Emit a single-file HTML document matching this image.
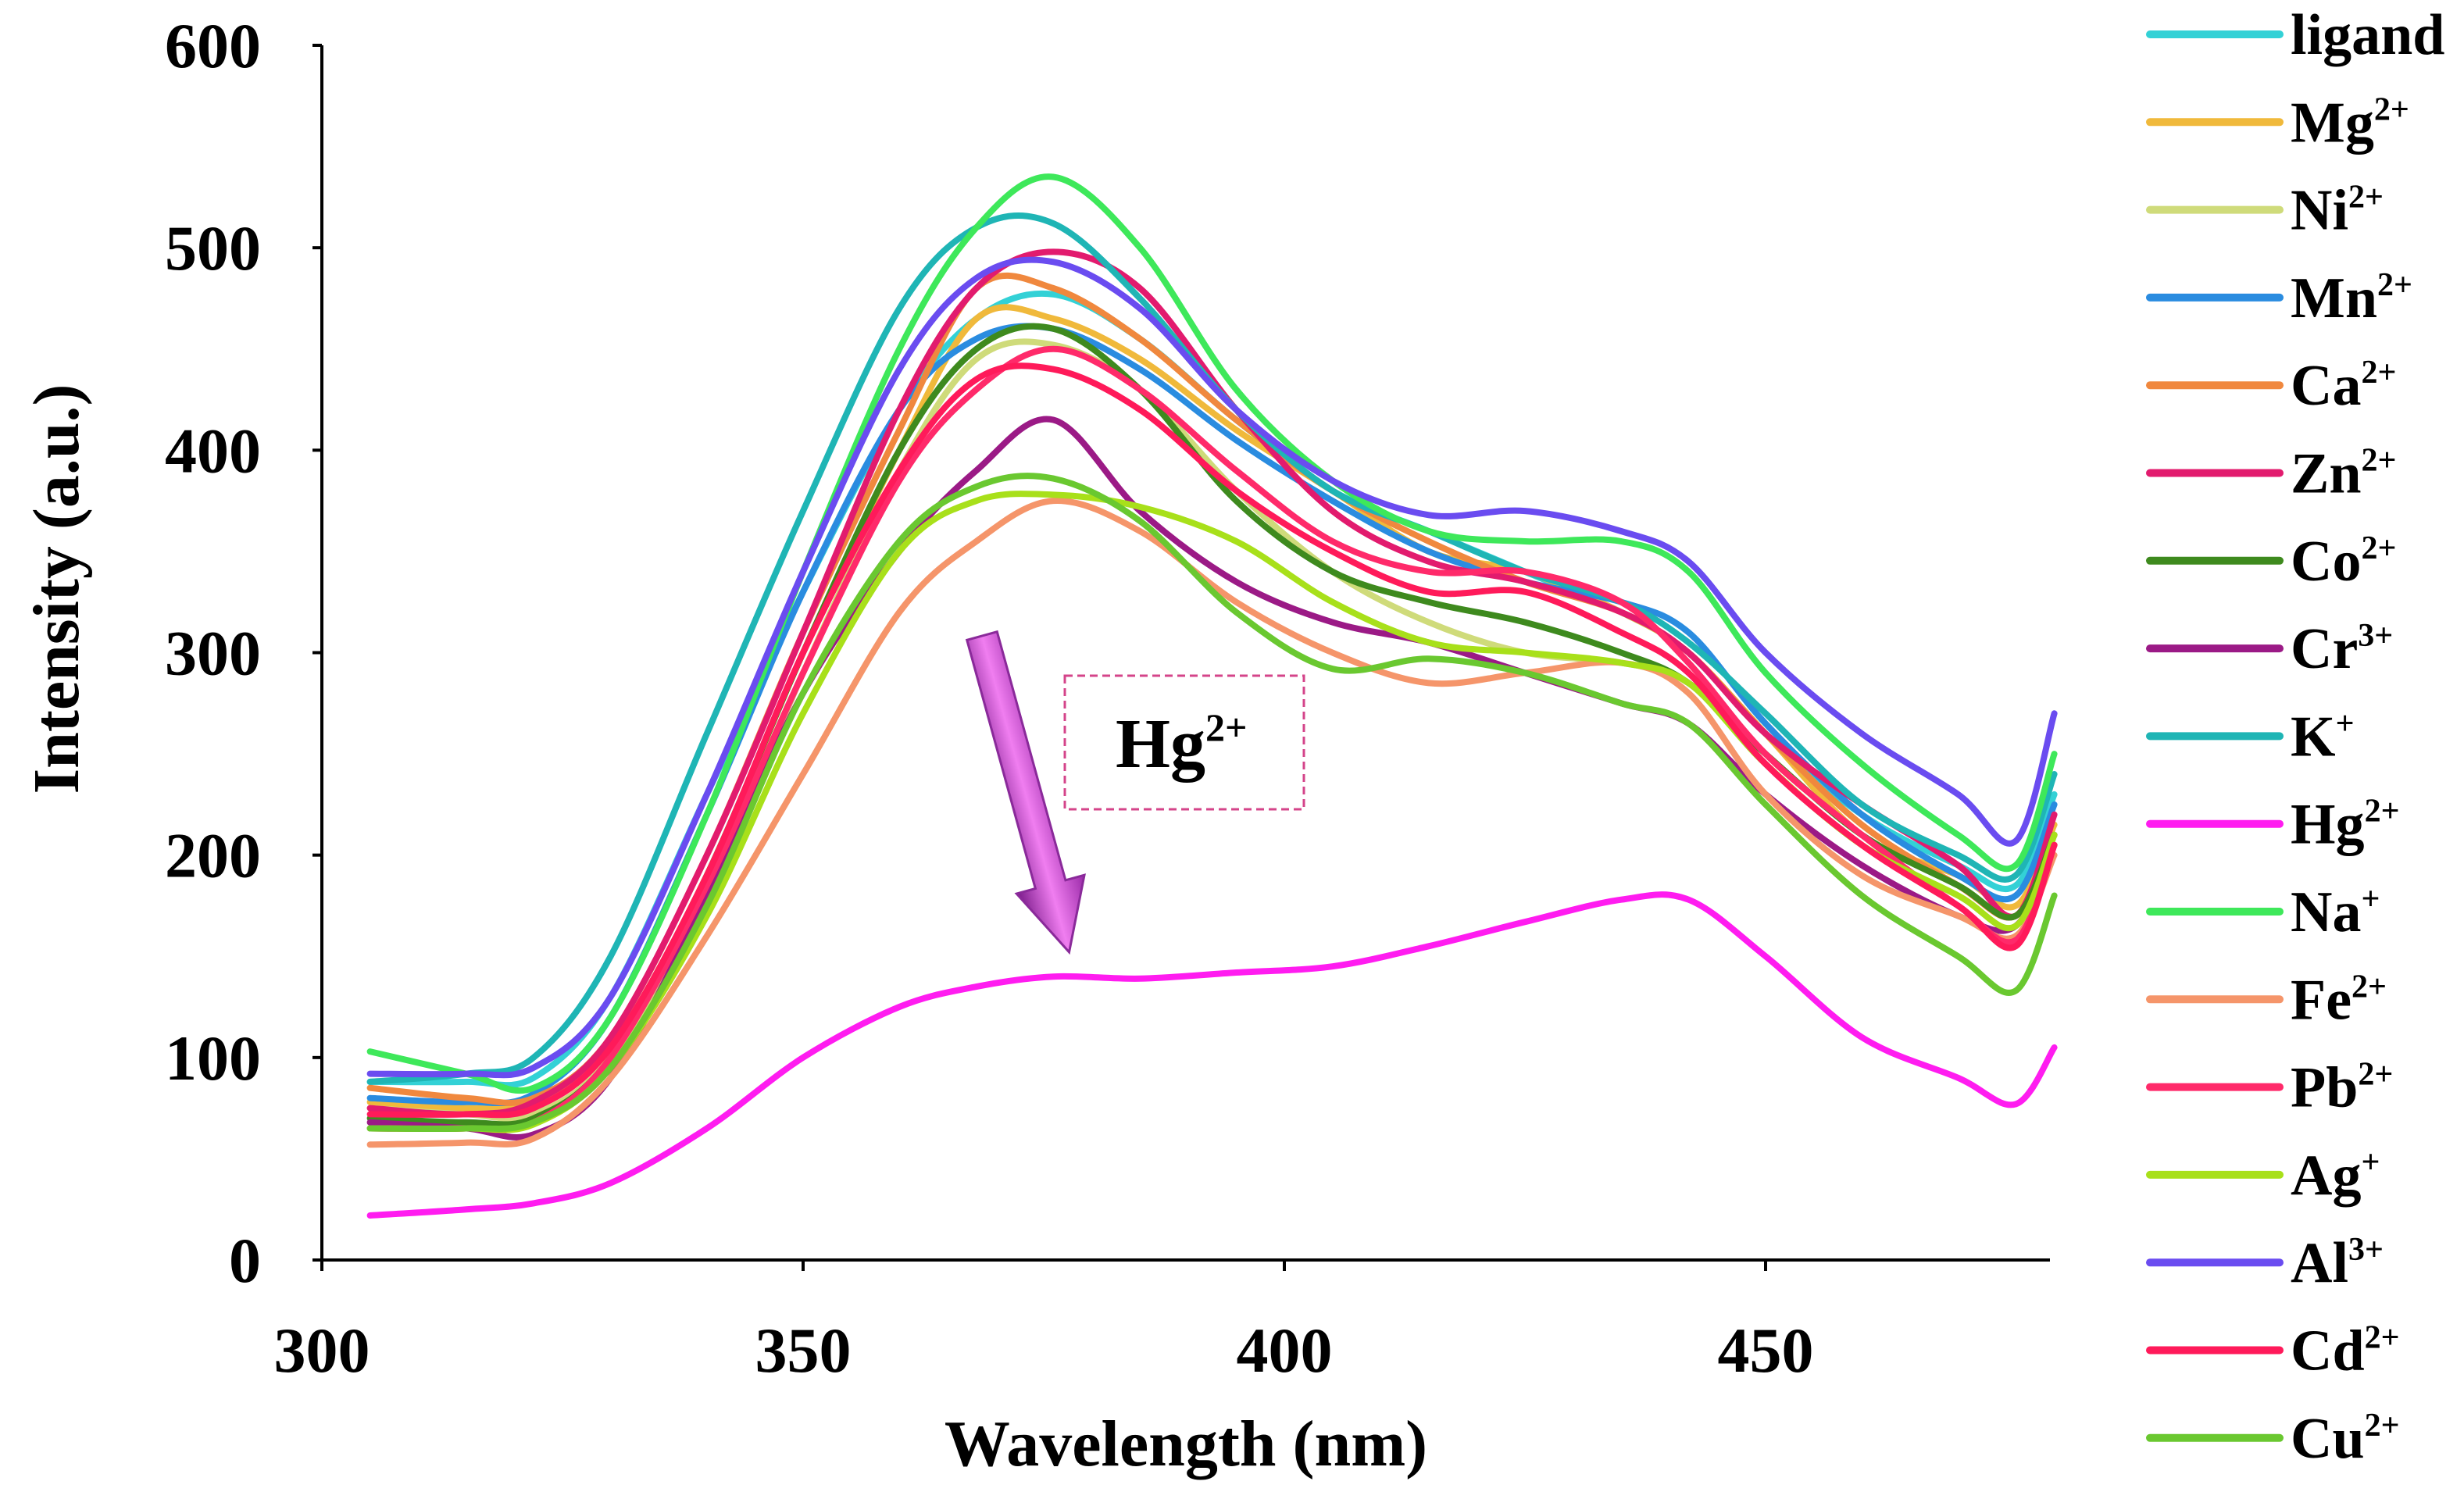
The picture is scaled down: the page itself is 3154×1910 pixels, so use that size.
<!DOCTYPE html>
<html><head><meta charset="utf-8"><style>
html,body{margin:0;padding:0;background:#fff;}
svg{display:block;font-family:"Liberation Serif",serif;font-weight:bold;}
</style></head><body>
<svg id="chart" width="3154" height="1910" viewBox="0 0 3154 1910" xmlns="http://www.w3.org/2000/svg">
<defs>
<linearGradient id="arrowGrad" x1="0" y1="0" x2="1" y2="0">
<stop offset="0" stop-color="#7a1a8a"/><stop offset="0.5" stop-color="#f07ef0"/><stop offset="1" stop-color="#9a2aa8"/>
</linearGradient>
</defs>
<g id="axes"></g>
<g id="series"></g>
<g id="legend"></g>
<g>
<g transform="translate(1257,814) rotate(-15.4)">
<polygon points="-20,0 20,0 20,330 45,330 0,420 -45,330 -20,330" fill="url(#arrowGrad)" stroke="#8a2a9a" stroke-width="3"/>
</g>
<rect x="1363" y="865" width="306" height="171" fill="none" stroke="#d4448a" stroke-width="3" stroke-dasharray="10,6"/>
<text x="1428" y="982" font-size="90">Hg<tspan font-size="50" dy="-34">2+</tspan></text>
</g>
<text x="1518" y="1876" font-size="84" text-anchor="middle">Wavelength (nm)</text>
<text transform="translate(100,754) rotate(-90)" font-size="84" text-anchor="middle">Intensity (a.u.)</text>
</svg>
<script>
const wavelengths=[305,315,322,330,340,350,360,368,376,385,395,405,415,425,435,442,450,460,470,476,480];
const seriesNames=["ligand","Mg","Ni","Mn","Ca","Zn","Co","Cr","K","Hg","Na","Fe","Pb","Ag","Al","Cd","Cu"];
const seriesCharges=["","2+","2+","2+","2+","2+","2+","3+","+","2+","+","2+","2+","+","3+","2+","2+"];
const seriesColors=["#33d1d6","#f0b93b","#cfdb7a","#2a8ce0","#f0883e","#e21b6e","#3e8a1e","#9b1a86","#1fb5b5","#ff1cf0","#3ee85a","#f5956a","#ff2a6a","#a8e01a","#6a4cf0","#ff1a5a","#6ac830"];
const ligandVals=[88,88,90,130,230,330,420,465,477,455,415,380,360,340,320,300,260,220,195,185,230];
const mgVals=[78,75,78,105,190,300,400,465,465,445,410,380,350,340,320,300,260,210,190,175,215];
const niVals=[75,72,72,100,180,290,390,445,452,430,380,340,315,300,295,285,250,210,185,170,210];
const mnVals=[80,78,82,120,220,330,420,455,460,440,405,375,350,335,325,310,265,220,190,180,225];
const caVals=[85,80,80,110,200,310,410,480,480,455,415,380,355,335,320,300,260,215,185,170,210];
const znVals=[75,72,78,110,200,310,420,480,498,480,420,370,345,335,320,300,260,225,195,170,220];
const coVals=[70,68,70,100,190,300,400,450,460,430,375,340,325,315,300,285,250,210,185,170,210];
const crVals=[68,65,62,90,180,280,350,390,415,370,335,315,305,290,275,265,230,195,170,165,205];
const kVals=[88,92,100,150,260,370,470,510,512,475,420,380,360,340,325,305,270,225,200,190,240];
const hgVals=[22,25,28,38,65,100,125,135,140,139,142,145,155,167,178,178,150,110,90,77,105];
const naVals=[103,92,85,120,220,340,450,510,535,500,430,385,360,355,355,340,290,245,210,195,250];
const feVals=[57,58,60,90,160,240,320,355,375,360,325,300,285,290,295,280,230,190,170,160,200];
const pbVals=[65,65,68,100,185,290,385,430,450,430,390,355,340,340,325,295,250,210,175,158,205];
const agVals=[65,65,67,95,170,270,350,375,378,372,355,325,305,300,295,285,245,205,180,165,210];
const alVals=[92,92,95,130,230,340,440,485,493,470,420,385,368,370,360,345,300,260,230,207,270];
const cdVals=[72,72,75,105,190,300,390,435,440,420,380,350,330,330,310,290,245,205,175,155,205];
const cuVals=[65,65,68,95,175,280,355,382,386,365,320,292,297,290,275,265,225,180,150,133,180];
const allVals=[ligandVals,mgVals,niVals,mnVals,caVals,znVals,coVals,crVals,kVals,hgVals,naVals,feVals,pbVals,agVals,alVals,cdVals,cuVals];
const xTicks=[300,350,400,450];
const yTicks=[0,100,200,300,400,500,600];

const NS="http://www.w3.org/2000/svg";
const X0=412,XPER=616/50,Y0=1613,YTOP=58,XEND=2624;
function xs(v){return X0+(v-300)*XPER;}
function ys(v){return Y0-(v/600)*(Y0-YTOP);}
function mk(tag,attrs,parent){const e=document.createElementNS(NS,tag);for(const k in attrs)e.setAttribute(k,attrs[k]);parent.appendChild(e);return e;}

const axes=document.getElementById('axes');
let e=mk('line',{x1:X0,y1:YTOP,x2:X0,y2:Y0,stroke:'#000','stroke-width':4},axes);


e=mk('line',{x1:X0-2,y1:Y0,x2:XEND,y2:Y0,stroke:'#000','stroke-width':4},axes);


yTicks.forEach(t=>{
  const y=ys(t);
  let l=mk('line',{x1:X0-12,y1:y,x2:X0,y2:y,stroke:'#000','stroke-width':4},axes);
  
  
  let tx=mk('text',{x:334,y:y+28,'font-size':82,'text-anchor':'end'},axes);
  tx.textContent=t;
  
  
});
xTicks.forEach(t=>{
  const x=xs(t);
  let l=mk('line',{x1:x,y1:Y0,x2:x,y2:Y0+14,stroke:'#000','stroke-width':4},axes);
  
  
  let tx=mk('text',{x:x,y:1756,'font-size':82,'text-anchor':'middle'},axes);
  tx.textContent=t;
  
  
});

function smoothPath(pts){
  let d='M'+pts[0][0].toFixed(1)+','+pts[0][1].toFixed(1);
  for(let i=0;i<pts.length-1;i++){
    const p0=pts[Math.max(0,i-1)],p1=pts[i],p2=pts[i+1],p3=pts[Math.min(pts.length-1,i+2)];
    const c1x=p1[0]+(p2[0]-p0[0])/6,c1y=p1[1]+(p2[1]-p0[1])/6;
    const c2x=p2[0]-(p3[0]-p1[0])/6,c2y=p2[1]-(p3[1]-p1[1])/6;
    d+='C'+c1x.toFixed(1)+','+c1y.toFixed(1)+' '+c2x.toFixed(1)+','+c2y.toFixed(1)+' '+p2[0].toFixed(1)+','+p2[1].toFixed(1);
  }
  return d;
}
const sg=document.getElementById('series');
allVals.forEach((vals,i)=>{
  const pts=wavelengths.map((w,j)=>[xs(w),ys(vals[j])]);
  const p=mk('path',{d:smoothPath(pts),fill:'none',stroke:seriesColors[i],'stroke-width':8,'stroke-linecap':'round','stroke-linejoin':'round'},sg);
  
  
});

const lg=document.getElementById('legend');
seriesNames.forEach((n,i)=>{
  const y=44+i*112.3;
  const l=mk('line',{x1:2752,y1:y,x2:2918,y2:y,stroke:seriesColors[i],'stroke-width':10,'stroke-linecap':'round'},lg);
  
  
  const t=mk('text',{x:2932,y:y+25,'font-size':74},lg);
  
  
  t.appendChild(document.createTextNode(n));
  if(seriesCharges[i]){
    const s=mk('tspan',{'font-size':42,dy:-28},t);
    s.textContent=seriesCharges[i];
  }
});
</script>
</body></html>
